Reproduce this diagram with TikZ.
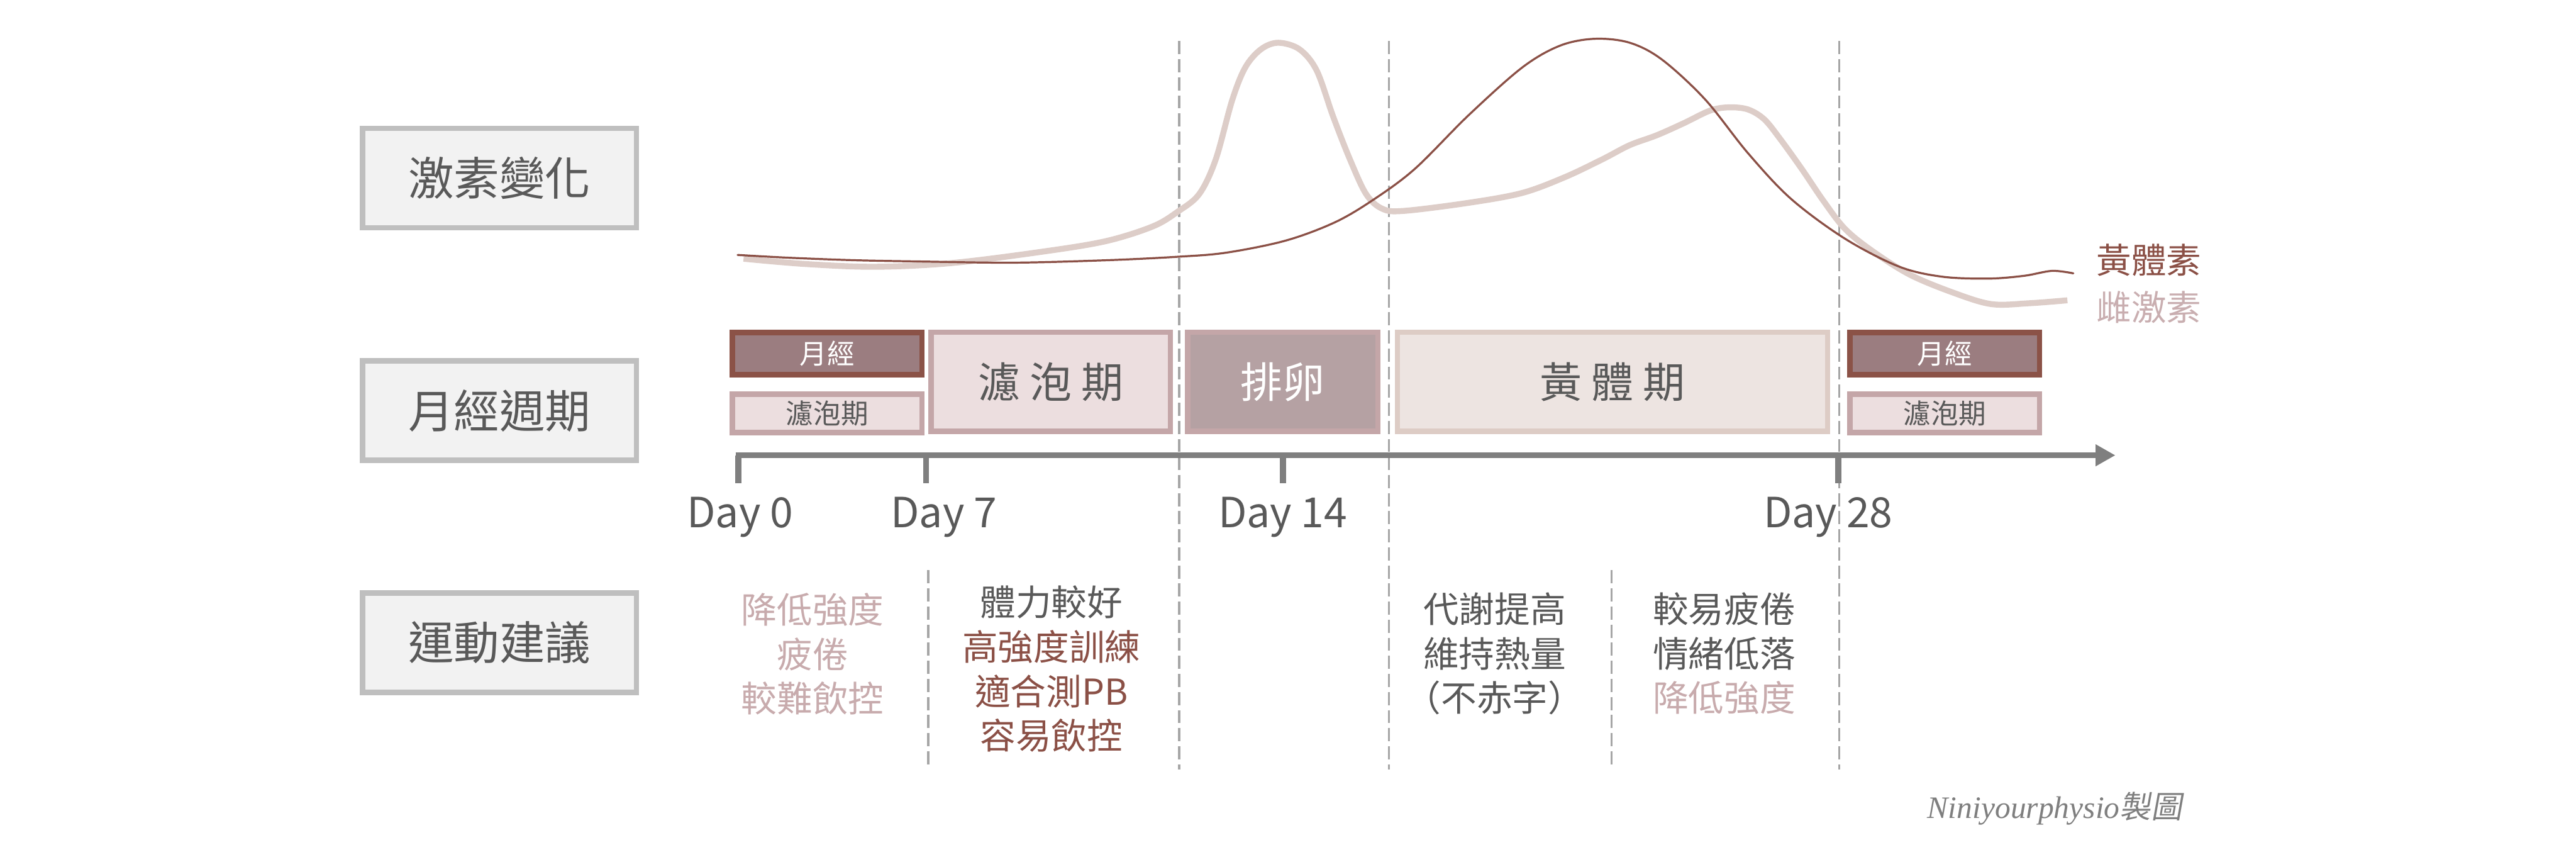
\documentclass[tikz,border=0pt]{standalone}
\usepackage{fontspec}
\setmainfont{Noto Sans CJK TC}
\newfontfamily\wmfont{Liberation Serif}
\newfontfamily\wmcjk{Noto Sans CJK TC}[FakeSlant=0.18]
\usetikzlibrary{arrows.meta}

\definecolor{boxfill}{HTML}{F2F2F2}
\definecolor{boxline}{HTML}{BFBFBF}
\definecolor{txtgray}{HTML}{595959}
\definecolor{axgray}{HTML}{7F7F7F}
\definecolor{dashgray}{HTML}{A6A6A6}
\definecolor{mensfill}{HTML}{9B7D80}
\definecolor{mensline}{HTML}{8B5247}
\definecolor{follfill}{HTML}{ECDEDF}
\definecolor{pinkline}{HTML}{C4A6A8}
\definecolor{ovufill}{HTML}{B5A1A3}
\definecolor{lutfill}{HTML}{EDE4E1}
\definecolor{lutline}{HTML}{DDCCC5}
\definecolor{progc}{HTML}{8B5046}
\definecolor{estc}{HTML}{DDCDC8}
\definecolor{pinktxt}{HTML}{C8ABAD}
\definecolor{browntxt}{HTML}{8B5046}
\definecolor{legpink}{HTML}{C9AEB0}

\begin{document}
\begin{tikzpicture}[x=0.2mm, y=-0.2mm,
  rowlabel/.style={draw=boxline, fill=boxfill, line width=1.85pt, minimum width=33.36mm, minimum height=12.1mm, inner sep=0pt, text=txtgray, font=\fontsize{15.8}{18}\selectfont},
  phasebox/.style={line width=1.85pt, inner sep=0pt},
  smallbox/.style={phasebox, minimum width=23.1mm, font=\fontsize{9.5}{11}\selectfont},
  mensbox/.style={smallbox, draw=mensline, fill=mensfill, text=white, minimum height=5.1mm},
  follsmall/.style={smallbox, draw=pinkline, fill=follfill, text=txtgray, minimum height=4.66mm},
  bigbox/.style={phasebox, minimum height=12.08mm, font=\fontsize{14.6}{17}\selectfont},
  guide/.style={draw=dashgray, line width=0.7pt, dash pattern=on 1.6mm off 0.6mm},
  axisline/.style={draw=axgray, line width=2pt},
  tickline/.style={draw=axgray, line width=2.1pt},
  daylabel/.style={anchor=base, text=txtgray, font=\fontsize{14.4}{17}\selectfont, inner sep=0pt},
  advice/.style={align=center, inner sep=0pt, text=txtgray, font=\fontsize{12.35}{15.37}\selectfont},
  legend/.style={inner sep=0pt, font=\fontsize{12.1}{14}\selectfont},
  curveP/.style={draw=progc, line width=0.7pt, line cap=round},
  curveE/.style={draw=estc, line width=2.05pt},
]
\useasboundingbox[fill=white] (0,0) rectangle (1568,524.3);

% dashed guide lines
\draw[guide] (717.8,25) -- (717.8,468);
\draw[guide] (845.4,25) -- (845.4,468);
\draw[guide] (1119.5,25) -- (1119.5,468);
\draw[guide] (565,347) -- (565,468);
\draw[guide] (981,347) -- (981,468);

% row labels
\node[rowlabel] (hormone) at (304,108.25) {激素變化};
\node[rowlabel] (cycle) at (304,249.85) {月經週期};
\node[rowlabel] (exercise) at (304,391) {運動建議};

% hormone curves
\draw[curveE] plot[smooth, tension=0.55] coordinates {(452.6,157.4) (490,160.6) (532.6,162.3) (579.6,160) (636,152.9) (673.6,146.6) (701.8,137.7) (717,128.7) (730,118) (740,97) (750,61) (758,41) (767.5,30) (778,26) (791,30) (801.5,43) (811.5,71) (821.5,96.5) (831.5,118) (841.4,127) (854.5,128.3) (893.8,123.4) (926.5,117.4) (952.7,107.7) (975.6,96.8) (992,88.3) (1008.4,82.3) (1024.8,75) (1041.1,67.2) (1052.6,65.3) (1064,66.6) (1073.9,72.6) (1083.7,84.7) (1096.8,102.9) (1109.9,122.2) (1123,139.2) (1139.4,152.5) (1162.3,167) (1188.5,177.9) (1212,185) (1235,184.5) (1258.4,182.7)};
\draw[curveP] plot[smooth, tension=0.55] coordinates {(449,155.1) (480,156.8) (520,158.3) (561,159.1) (617,159.8) (674,158.3) (717,156.2) (746.5,153.7) (782.5,146.4) (812,135.5) (834.9,122.2) (861,102.9) (893.8,70.2) (926.5,41.1) (949.5,27.8) (970.7,23.6) (992,26) (1011.7,36.3) (1037.9,60.5) (1064,93.2) (1090.2,121) (1123,145.2) (1155.7,162.1) (1181.9,168.3) (1210,169.5) (1232,167.8) (1249,164.8) (1262,166.3)};

\node[legend, text=progc] (legP) at (1308,158.2) {黃體素};
\node[legend, text=legpink] (legE) at (1308,187) {雌激素};

% phase boxes
\node[mensbox] (mensL) at (503.5,215.15) {月經};
\node[follsmall] (follL) at (503.5,251.55) {濾泡期};
\node[bigbox, draw=pinkline, fill=follfill, text=txtgray, minimum width=29.14mm] (foll) at (639.55,232.3) {濾 泡 期};
\node[bigbox, draw=pinkline, fill=ovufill, text=white, minimum width=23.18mm] (ovu) at (780.85,232.3) {排卵};
\node[bigbox, draw=lutline, fill=lutfill, text=txtgray, minimum width=52.38mm] (lut) at (981.55,232.3) {黃 體 期};
\node[mensbox] (mensR) at (1183.75,215.15) {月經};
\node[follsmall] (follR) at (1183.75,251.55) {濾泡期};

% time axis
\coordinate (axstart) at (447.7,277);
\coordinate (axend) at (1287.6,277);
\coordinate (t0) at (449.4,277);
\coordinate (t7) at (563.7,277);
\coordinate (t14) at (780.9,277);
\coordinate (t28) at (1119,277);
\draw[tickline] (t0) -- ++(0,17);
\draw[tickline] (t7) -- ++(0,17);
\draw[tickline] (t14) -- ++(0,17);
\draw[tickline] (t28) -- ++(0,17);
\draw[axisline, -{Triangle[length=2.4mm, width=2.5mm]}] (axstart) -- (axend);

\node[daylabel] (day0) at (450.5,321) {Day 0};
\node[daylabel] (day7) at (574.5,321) {Day 7};
\node[daylabel] (day14) at (780.8,321) {Day 14};
\node[daylabel] (day28) at (1112.8,321) {Day 28};

% exercise advice
\node[advice, text=pinktxt] (adv1) at (494.7,398) {降低強度\\疲倦\\較難飲控};
\node[advice] (adv2) at (640,407) {體力較好\\{\color{browntxt}高強度訓練}\\{\color{browntxt}適合測PB}\\{\color{browntxt}容易飲控}};
\node[advice] (adv3) at (909.7,397.7) {代謝提高\\維持熱量\\（不赤字）};
\node[advice] (adv4) at (1049.5,397.7) {較易疲倦\\情緒低落\\{\color{pinktxt}降低強度}};

% credit
\node[anchor=base west, inner sep=0pt, text=axgray, font=\wmfont\itshape\fontsize{10.8}{13}\selectfont] (credit) at (1172.9,497.9) {Niniyourphysio{\wmcjk 製圖}};
\end{tikzpicture}
\end{document}
